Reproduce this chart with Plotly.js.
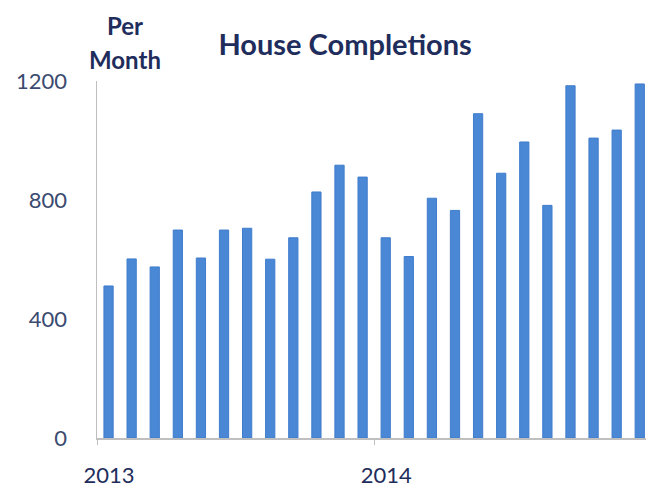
<!DOCTYPE html>
<html>
<head>
<meta charset="utf-8">
<script src="https://cdn.plot.ly/plotly-3.0.1.min.js"></script>
<style>
  html, body { margin: 0; padding: 0; background: #fff; }
  #chart { width: 646px; height: 492px; }
</style>
</head>
<body>
<div id="chart"></div>
<script>
// monthly completions, Jan 2013 .. Dec 2014
var months = [0, 1, 2, 3, 4, 5, 6, 7, 8, 9, 10, 11,
              12, 13, 14, 15, 16, 17, 18, 19, 20, 21, 22, 23];
var completions = [511, 602, 575, 699, 605, 699, 705, 601, 673, 827, 917, 877,
                   673, 610, 806, 765, 1090, 890, 995, 782, 1184, 1008, 1035, 1190];
var yearTicks = [-0.5, 11.5];
var yearLabels = ['2013', '2014'];

var navy = '#1f2d5c';
var fontFam = 'Lato, "Open Sans", sans-serif';

var trace = {
  x: months,
  y: completions,
  type: 'bar',
  marker: { color: '#4a88d6', line: { color: '#3f7ccc', width: 1 } },
  hoverinfo: 'y'
};

var layout = {
  width: 646,
  height: 492,
  margin: { l: 97, r: 0, t: 81, b: 54 },
  paper_bgcolor: '#fff',
  plot_bgcolor: '#fff',
  bargap: 0.6,
  showlegend: false,
  font: { family: fontFam, color: navy },
  title: {
    text: '<b>House Completions</b>',
    font: { size: 29, color: navy, family: fontFam },
    x: 0.452, xref: 'paper', xanchor: 'center',
    y: 1 - 45 / 492, yref: 'container', yanchor: 'middle'
  },
  xaxis: {
    range: [-0.5, 23.27],
    tickmode: 'array',
    tickvals: yearTicks,
    ticktext: yearLabels,
    ticklabelshift: 12,
    ticklabelstandoff: 12,
    ticks: 'outside',
    ticklen: 5,
    tickcolor: '#bfbfbf',
    showline: true,
    linecolor: '#bfbfbf',
    linewidth: 1.5,
    showgrid: false,
    zeroline: false,
    tickfont: { size: 22, color: navy }
  },
  yaxis: {
    range: [0, 1200],
    tickvals: [0, 400, 800, 1200],
    ticks: '',
    ticklabelstandoff: 24,
    showline: true,
    linecolor: '#bfbfbf',
    linewidth: 1.5,
    showgrid: false,
    zeroline: false,
    tickfont: { size: 22, color: '#3a4a70' }
  },
  annotations: [
    { text: '<b>Per</b>', xref: 'paper', yref: 'paper', x: (125 - 97) / 549, y: 1 + (81 - 25) / 357,
      showarrow: false, xanchor: 'center', yanchor: 'middle', font: { size: 24, color: navy } },
    { text: '<b>Month</b>', xref: 'paper', yref: 'paper', x: (125 - 97) / 549, y: 1 + (81 - 59) / 357,
      showarrow: false, xanchor: 'center', yanchor: 'middle', font: { size: 24, color: navy } }
  ]
};

Plotly.newPlot('chart', [trace], layout, { displayModeBar: false, staticPlot: true });
</script>
</body>
</html>
